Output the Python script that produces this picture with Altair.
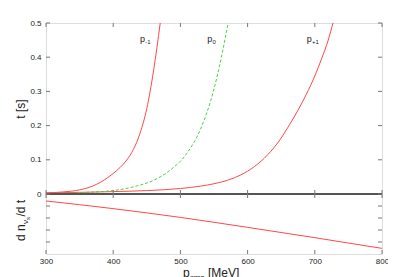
import altair as alt
import pandas as pd

# ---- data ----
p_minus = [300, 325, 350, 375, 400, 410, 420, 430, 440, 450, 460, 470]
t_minus = [0.003, 0.006, 0.012, 0.028, 0.06, 0.077, 0.099, 0.13, 0.178, 0.25, 0.36, 0.5]

p_zero = [300, 350, 400, 430, 460, 485, 510, 530, 549, 561, 571]
t_zero = [0.001, 0.004, 0.01, 0.021, 0.04, 0.07, 0.12, 0.19, 0.3, 0.4, 0.5]

p_plus = [300, 400, 450, 500, 530, 550, 570, 590, 610, 630, 648, 660, 675, 687, 700, 710, 720, 727]
t_plus = [0.003, 0.007, 0.01, 0.016, 0.023, 0.03, 0.04, 0.056, 0.08, 0.115, 0.158, 0.195, 0.245,
          0.29, 0.345, 0.395, 0.45, 0.5]

rate_p = [300, 400, 500, 600, 700, 800]
rate_v = [-0.58, -1.22, -1.95, -2.78, -3.64, -4.53]

label_p = [440, 540, 688]
label_t = [0.445, 0.445, 0.445]
label_sub = ["-1", "0", "+1"]

x_ticks = [300, 400, 500, 600, 700, 800]
y_ticks_top = [0, 0.1, 0.2, 0.3, 0.4, 0.5]
y_ticks_bot = [-1, -2, -3, -4]

# ---- layout / style ----
W, H1, H2 = 336, 171, 60
H = H1 + H2
FONT = "Liberation Sans"
FRAME = "#777777"
RED = "#ff4848"
GREEN = "#44d444"
TL = 4  # tick length

xs = alt.Scale(domain=[300, 800], nice=False, zero=False)
ys_top = alt.Scale(domain=[0, 0.5], nice=False, zero=False, range=[H1, 0])
ys_bot = alt.Scale(domain=[-5, 0], nice=False, zero=False, range=[H, H1])

top_y_axis = alt.Axis(values=y_ticks_top, format="~g", ticks=False, domain=False, grid=False,
                      labelFont=FONT, labelFontSize=8, labelColor="#222", labelPadding=5,
                      labelOverlap=False, labelFlush=False, title=None)
x_axis = alt.Axis(values=x_ticks, format="d", ticks=False, domain=False, grid=False,
                  labelFont=FONT, labelFontSize=8, labelColor="#222", labelPadding=3,
                  labelOverlap=False, labelFlush=False, title=None)

red_df = pd.concat([
    pd.DataFrame({"p": p_minus, "t": t_minus, "s": "p-1"}),
    pd.DataFrame({"p": p_plus, "t": t_plus, "s": "p+1"}),
])
green_df = pd.DataFrame({"p": p_zero, "t": t_zero})
rate_df = pd.DataFrame({"p": rate_p, "v": rate_v})
lab_df = pd.DataFrame({"p": label_p, "t": label_t, "sub": label_sub})
xt_df = pd.DataFrame({"v": x_ticks})
yt_df = pd.DataFrame({"v": y_ticks_top})
yb_df = pd.DataFrame({"v": y_ticks_bot})
one = pd.DataFrame({"a": [0]})


def X(field):
    return alt.X(field, type="quantitative", scale=xs, axis=x_axis)


def TY(field):
    return alt.Y(field, type="quantitative", scale=ys_top, axis=top_y_axis)


def BY(field):
    return alt.Y(field, type="quantitative", scale=ys_bot, axis=None)


def rule():
    return alt.Chart(xt_df).mark_rule(color=FRAME, strokeWidth=1)


# ---------------- top panel (time curves) ----------------
red_lines = alt.Chart(red_df).mark_line(color=RED, strokeWidth=1, interpolate="monotone", clip=True).encode(
    x=X("p"), y=TY("t"), detail="s:N")
green_line = alt.Chart(green_df).mark_line(color=GREEN, strokeWidth=1, strokeDash=[3, 2],
                                           interpolate="monotone", clip=True).encode(
    x=X("p"), y=TY("t"))
zero_line = alt.Chart(one).mark_rule(color="#555", strokeWidth=1.8).encode(
    x=alt.value(0), x2=alt.value(W), y=TY("a"))

top_xt1 = rule().encode(x=X("v"), y=alt.value(0), y2=alt.value(TL))
top_xt2 = rule().encode(x=X("v"), y=alt.value(H1 - TL), y2=alt.value(H1 + TL))
bot_xt2 = rule().encode(x=X("v"), y=alt.value(H - TL), y2=alt.value(H))
top_yt1 = alt.Chart(yt_df).mark_rule(color=FRAME, strokeWidth=1).encode(
    y=TY("v"), x=alt.value(0), x2=alt.value(TL))
top_yt2 = alt.Chart(yt_df).mark_rule(color=FRAME, strokeWidth=1).encode(
    y=TY("v"), x=alt.value(W - TL), x2=alt.value(W))

lab_main = alt.Chart(lab_df).mark_text(text="p", font=FONT, fontSize=9, align="left",
                                       baseline="alphabetic", color="#222").encode(
    x=X("p"), y=TY("t"))
lab_sub = alt.Chart(lab_df).mark_text(font=FONT, fontSize=6, align="left", baseline="alphabetic",
                                      dx=5.2, dy=2, color="#222").encode(
    x=X("p"), y=TY("t"), text="sub:N")

t_title = alt.Chart(one).mark_text(text="t [s]", font=FONT, fontSize=12, angle=270, align="center",
                                   baseline="alphabetic", color="#222").encode(
    x=alt.value(-21.5), y=alt.value(86))

# ---------------- bottom panel (rate) ----------------
rate_line = alt.Chart(rate_df).mark_line(color=RED, strokeWidth=1, interpolate="monotone").encode(
    x=X("p"), y=BY("v"))
bot_yt1 = alt.Chart(yb_df).mark_rule(color=FRAME, strokeWidth=1).encode(
    y=BY("v"), x=alt.value(0), x2=alt.value(TL))
bot_yt2 = alt.Chart(yb_df).mark_rule(color=FRAME, strokeWidth=1).encode(
    y=BY("v"), x=alt.value(W - TL), x2=alt.value(W))

# y title "d n_{nu_s}/d t" (rotated, pieces along the text direction)
YB = H1 + 47
yb_kw = dict(font=FONT, angle=270, align="left", baseline="alphabetic", color="#222")
yb1 = alt.Chart(one).mark_text(text="d n", fontSize=12, **yb_kw).encode(x=alt.value(-21.5), y=alt.value(YB))
yb2 = alt.Chart(one).mark_text(text="ν", fontSize=8, dx=17, dy=3, **yb_kw).encode(x=alt.value(-21.5), y=alt.value(YB))
yb3 = alt.Chart(one).mark_text(text="s", fontSize=6, dx=21, dy=5.5, **yb_kw).encode(x=alt.value(-21.5), y=alt.value(YB))
yb4 = alt.Chart(one).mark_text(text="/d t", fontSize=12, dx=24.5, **yb_kw).encode(x=alt.value(-21.5), y=alt.value(YB))

# x title "p_{cms} [MeV]"
XT = H + 23
xk = dict(font=FONT, align="left", baseline="alphabetic", color="#222")
xt1 = alt.Chart(one).mark_text(text="p", fontSize=12, **xk).encode(x=alt.value(137), y=alt.value(XT))
xt2 = alt.Chart(one).mark_text(text="cms", fontSize=8, dx=6.8, dy=3, **xk).encode(x=alt.value(137), y=alt.value(XT))
xt3 = alt.Chart(one).mark_text(text="[MeV]", fontSize=12, dx=25, **xk).encode(x=alt.value(137), y=alt.value(XT))

top_layers = [red_lines, green_line, zero_line, top_xt1, top_xt2, top_yt1, top_yt2,
              lab_main, lab_sub, t_title]
bot_layers = [rate_line, bot_xt2, bot_yt1, bot_yt2, yb1, yb2, yb3, yb4, xt1, xt2, xt3]

chart = alt.layer(alt.layer(*top_layers), alt.layer(*bot_layers)).resolve_scale(
    y="independent"
).properties(
    width=W, height=H,
    autosize=alt.AutoSizeParams(type="none"),
    padding={"left": 38, "top": 15, "right": 6, "bottom": 32},
).configure_view(stroke=FRAME, strokeWidth=1.5).configure(background="white")

chart.save("out.html", embed_options={"renderer": "svg", "actions": False})
